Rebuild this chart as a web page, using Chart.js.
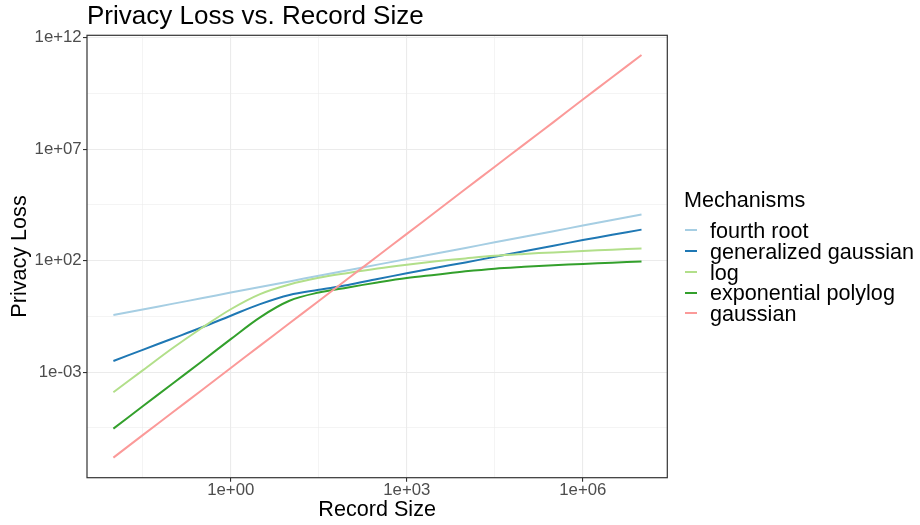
<!DOCTYPE html>
<html>
<head>
<meta charset="utf-8">
<script src="https://cdn.jsdelivr.net/npm/chart.js@4/dist/chart.umd.min.js"></script>
<style>
  body { margin: 0; background: #fff; font-family: "Liberation Sans", Arial, sans-serif; }
  #wrap { position: relative; width: 920px; height: 525px; }
  #legend { position: absolute; left: 684px; top: 188px; color: #000; }
  #legend .title { font-size: 21.6px; line-height: 24px; height: 32px; }
  #legend .row { display: flex; align-items: center; height: 20.75px; font-size: 21.6px; line-height: 20.75px; }
  #legend .key { width: 12px; height: 2px; margin-left: 1px; margin-right: 13px; }
  #legend .lbl { position: relative; top: 1px; white-space: nowrap; }
</style>
</head>
<body>
<div id="wrap">
  <canvas id="chart" width="920" height="525"></canvas>
  <div id="legend"></div>
</div>
<script>
// values (log-log)
const recordSize = [0.01, 0.0316, 0.1, 0.316, 1, 3.16, 10, 31.6, 100, 316, 1000, 3160, 1e4, 3.16e4, 1e5, 3.16e5, 1e6, 3.16e6, 1e7];
const fourthRoot = [0.363, 0.646, 1.15, 2.04, 3.72, 6.61, 11.7, 20.9, 37.2, 66.1, 117, 209, 372, 661, 1175, 2089, 3715, 6607, 11749];
const generalizedGaussian = [0.00316, 0.01, 0.0316, 0.1, 0.339, 1.12, 2.88, 4.9, 8.13, 15.1, 26.9, 47.9, 83.2, 148, 263, 468, 832, 1445, 2455];
const logMech = [1.26e-4, 1.2e-3, 0.0115, 0.0933, 0.661, 3.16, 8.51, 17.0, 28.2, 44.7, 66.1, 93.3, 126, 166, 200, 234, 269, 309, 347];
const expPolylog = [2.95e-6, 2.95e-5, 2.95e-4, 2.95e-3, 0.0302, 0.288, 1.585, 3.72, 6.31, 10.5, 16.6, 23.4, 33.1, 43.7, 52.5, 61.7, 70.8, 81.3, 91.2];
const gaussian = [1.48e-7, 1.51e-6, 1.51e-5, 1.51e-4, 1.55e-3, 0.0155, 0.155, 1.55, 15.8, 158, 1585, 1.585e4, 1.62e5, 1.62e6, 1.62e7, 1.62e8, 1.66e9, 1.66e10, 1.66e11];

const mechanisms = ['fourth root', 'generalized gaussian', 'log', 'exponential polylog', 'gaussian'];
const seriesValues = [fourthRoot, generalizedGaussian, logMech, expPolylog, gaussian];
const colors = ['#A6CEE3', '#1F78B4', '#B2DF8A', '#33A02C', '#FB9A99'];

// axis breaks
const xMajor = [1, 1e3, 1e6];
const xTickLabels = ['1e+00', '1e+03', '1e+06'];
const xMinor = [0.0316228, 31.6228, 31622.8];
const yMajor = [1e-3, 1e2, 1e7, 1e12];
const yTickLabels = ['1e-03', '1e+02', '1e+07', '1e+12'];
const yMinor = [3.16228e-6, 0.316228, 31622.8, 3.16228e9];

const FONT = '"Liberation Sans", Arial, sans-serif';

function isMajor(list, v) {
  return list.some(m => Math.abs(Math.log10(m) - Math.log10(v)) < 1e-6);
}

const datasets = mechanisms.map((name, i) => ({
  label: name,
  data: recordSize.map((x, j) => ({ x: x, y: seriesValues[i][j] })),
  borderColor: colors[i],
  backgroundColor: colors[i],
  borderWidth: 2,
  pointRadius: 0,
  tension: 0.35,
  order: mechanisms.length - 1 - i
}));

const panelFrame = {
  id: 'panelFrame',
  afterDatasetsDraw(chart) {
    const { ctx, chartArea: a } = chart;
    ctx.save();
    ctx.strokeStyle = '#333333';
    ctx.lineWidth = 1.2;
    ctx.strokeRect(a.left, a.top, a.right - a.left, a.bottom - a.top);
    ctx.restore();
  },
  afterDraw(chart) {
    const { ctx, chartArea: a } = chart;
    ctx.save();
    ctx.fillStyle = '#000';
    ctx.font = '26px ' + FONT;
    ctx.textBaseline = 'alphabetic';
    ctx.fillText('Privacy Loss vs. Record Size', a.left, 24);
    ctx.restore();
  }
};

function gridOpts(major) {
  return {
    color: '#EBEBEB',
    lineWidth: ctx => (ctx.tick && isMajor(major, ctx.tick.value)) ? 1.1 : 0.55,
    tickColor: ctx => (ctx.tick && isMajor(major, ctx.tick.value)) ? '#333333' : 'rgba(0,0,0,0)',
    tickLength: 4,
    tickWidth: 1.1
  };
}

new Chart(document.getElementById('chart'), {
  type: 'line',
  data: { datasets: datasets },
  plugins: [panelFrame],
  options: {
    responsive: false,
    animation: false,
    layout: { padding: { top: 35.3, right: 252.7, bottom: 0, left: 0 } },
    plugins: { legend: { display: false }, tooltip: { enabled: false } },
    scales: {
      x: {
        type: 'logarithmic',
        min: 0.00355,
        max: 2.75e7,
        bounds: 'data',
        afterBuildTicks: s => { s.ticks = xMinor.concat(xMajor).sort((a, b) => a - b).map(v => ({ value: v })); },
        afterFit: s => { s.height = 47.3; },
        border: { display: false },
        grid: gridOpts(xMajor),
        ticks: {
          autoSkip: false,
          maxRotation: 0,
          padding: 0,
          color: '#4D4D4D',
          font: { family: FONT, size: 16.8, lineHeight: 1 },
          callback: v => { const k = xMajor.findIndex(m => isMajor([m], v)); return k >= 0 ? xTickLabels[k] : ''; }
        },
        title: { display: true, text: 'Record Size', color: '#000', font: { family: FONT, size: 21.6 }, padding: { top: 0, bottom: 2.2 } }
      },
      y: {
        type: 'logarithmic',
        min: 1.86e-8,
        max: 1.26e12,
        bounds: 'data',
        afterBuildTicks: s => { s.ticks = yMinor.concat(yMajor).sort((a, b) => a - b).map(v => ({ value: v })); },
        afterFit: s => { s.width = 87; },
        border: { display: false },
        grid: gridOpts(yMajor),
        ticks: {
          autoSkip: false,
          padding: 1.3,
          color: '#4D4D4D',
          font: { family: FONT, size: 16.8 },
          callback: v => { const k = yMajor.findIndex(m => isMajor([m], v)); return k >= 0 ? yTickLabels[k] : ''; }
        },
        title: { display: true, text: 'Privacy Loss', color: '#000', font: { family: FONT, size: 21.6 }, padding: { top: 7, bottom: 0 } }
      }
    }
  }
});

// legend built from the same series
const legend = document.getElementById('legend');
legend.innerHTML = '<div class="title">Mechanisms</div>' + mechanisms.map((name, i) =>
  '<div class="row"><span class="key" style="background:' + colors[i] + '"></span><span class="lbl">' + name + '</span></div>'
).join('');
</script>
</body>
</html>
